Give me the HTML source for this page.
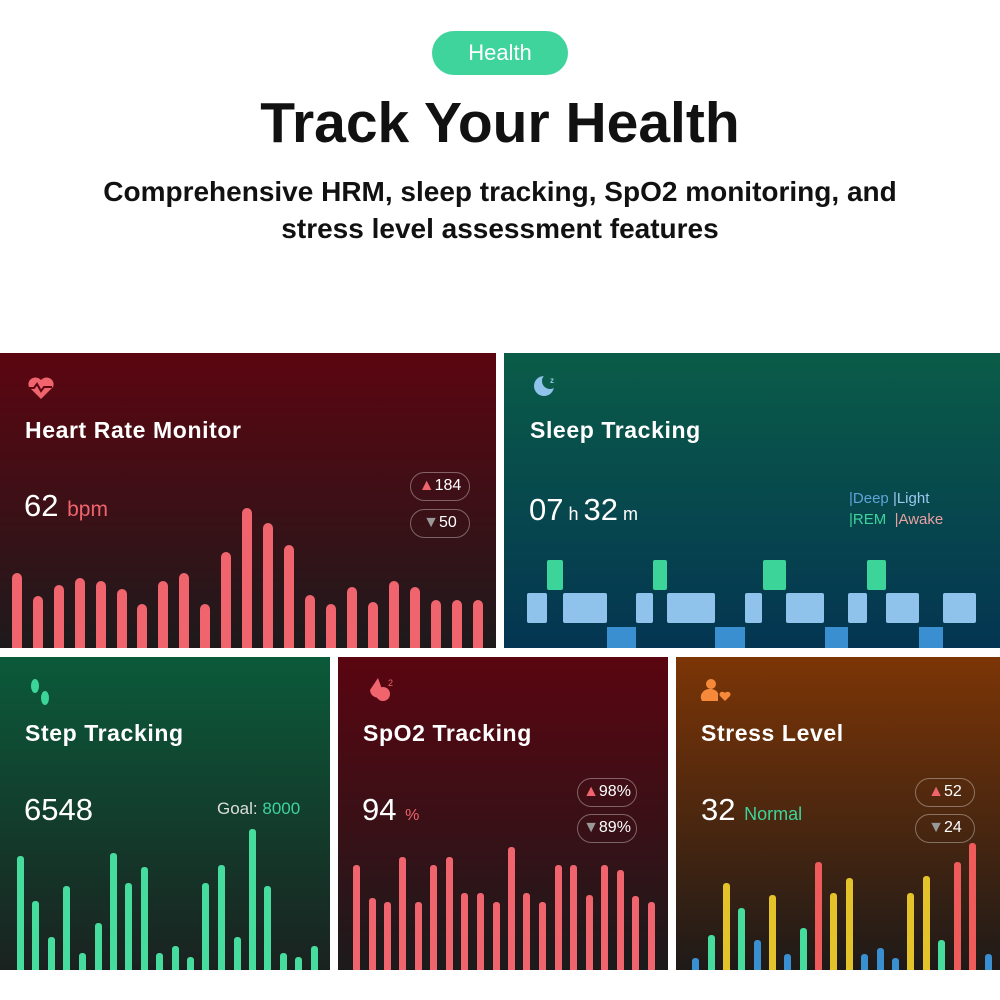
<!DOCTYPE html>
<html><head><meta charset="utf-8"><style>
*{margin:0;padding:0;box-sizing:border-box}
body{width:1000px;height:1000px;background:#fff;position:relative;overflow:hidden;font-family:"Liberation Sans","DejaVu Sans",sans-serif}
.a{position:absolute}
.pill{left:432px;top:31px;width:136px;height:44px;border-radius:22px;background:#3fd49c;color:#fff;font-size:22px;text-align:center;line-height:44px}
h1{position:absolute;left:0;width:1000px;top:90px;text-align:center;font-size:57px;font-weight:bold;color:#111}
.sub{left:0;width:1000px;top:173px;text-align:center;font-size:28px;line-height:37px;color:#111;font-weight:bold}
.p{position:absolute;overflow:hidden}
.t{position:absolute;color:#fff;font-weight:bold;font-size:23px;letter-spacing:0.6px}
.big{position:absolute;color:#fff;font-size:31px}
.badge{position:absolute;border:1.5px solid rgba(255,255,255,0.35);border-radius:16px;width:60px;height:29px;color:#fff;font-size:16px;line-height:26px;text-align:center}
</style></head><body>
<div class="a pill">Health</div>
<h1>Track Your Health</h1>
<div class="a sub">Comprehensive HRM, sleep tracking, SpO2 monitoring, and<br>stress level assessment features</div>

<div class="p" style="left:0;top:353px;width:496px;height:295px;background:linear-gradient(#5c0510,#1e1a1c)"></div>
<div class="p" style="left:504px;top:353px;width:496px;height:295px;background:linear-gradient(#0a5c48,#043552)"></div>
<div class="p" style="left:0;top:657px;width:330px;height:313px;background:linear-gradient(#0b5a3a,#1a2220)"></div>
<div class="p" style="left:338px;top:657px;width:330px;height:313px;background:linear-gradient(#5a0510,#1c1a1c)"></div>
<div class="p" style="left:676px;top:657px;width:324px;height:313px;background:linear-gradient(#7c3506,#1e1a18)"></div>

<div class="t" style="left:25px;top:417px">Heart Rate Monitor</div>
<div class="big" style="left:24px;top:488px">62 <span style="color:#f0646e;font-size:21px">bpm</span></div>
<div class="badge" style="left:410px;top:472px"><span style="color:#f0646e">▲</span>184</div>
<div class="badge" style="left:410px;top:509px"><span style="color:#999">▼</span>50</div>

<div class="t" style="left:530px;top:417px">Sleep Tracking</div>
<div class="big" style="left:529px;top:492px">07<span style="font-size:18px"> h </span>32<span style="font-size:18px"> m</span></div>
<div class="a" style="left:849px;top:488px;font-size:15px;line-height:21px;color:#5ea4d8">|Deep <span style="color:#9cc8ef">|Light</span><br><span style="color:#3dd49a">|REM</span> <span style="color:#e8a0a0">&nbsp;|Awake</span></div>

<div class="t" style="left:25px;top:720px">Step Tracking</div>
<div class="big" style="left:24px;top:792px">6548</div>
<div class="a" style="left:217px;top:799px;font-size:17px;color:#ddd">Goal: <span style="color:#3dd49a">8000</span></div>

<div class="t" style="left:363px;top:720px">SpO2 Tracking</div>
<div class="big" style="left:362px;top:792px">94 <span style="color:#f0646e;font-size:16px">%</span></div>
<div class="badge" style="left:577px;top:778px"><span style="color:#f0646e">▲</span>98%</div>
<div class="badge" style="left:577px;top:814px"><span style="color:#999">▼</span>89%</div>

<div class="t" style="left:701px;top:720px">Stress Level</div>
<div class="big" style="left:701px;top:792px">32 <span style="color:#3dd49a;font-size:18px">Normal</span></div>
<div class="badge" style="left:915px;top:778px;width:60px"><span style="color:#f0646e">▲</span>52</div>
<div class="badge" style="left:915px;top:814px;width:60px"><span style="color:#999">▼</span>24</div>

<svg class="a" style="left:0;top:0" width="1000" height="1000" viewBox="0 0 1000 1000">
<defs><clipPath id="ct"><rect x="0" y="350" width="1000" height="298"/></clipPath>
<clipPath id="cb"><rect x="0" y="657" width="1000" height="313"/></clipPath></defs>
<path d="M41 380 c-6-6-15 0-12 7 l12 12 12-12 c3-7-6-13-12-7z" fill="#f0646e"/>
<path d="M29 388 h5 l3-4 4 7 3-4 h8" stroke="#5c0510" stroke-width="2" fill="none"/>
<circle cx="544" cy="386" r="10" fill="#8fc3ec"/><circle cx="550" cy="381" r="8" fill="#0a5c48"/>
<text x="550" y="383" font-size="8" fill="#8fc3ec" font-weight="bold">z</text>
<ellipse cx="35" cy="686" rx="4" ry="7" fill="#3dd49a"/><ellipse cx="45" cy="698" rx="4" ry="7" fill="#3dd49a"/>
<path d="M378 678 l-8 12 a8 8 0 0 0 14 5z" fill="#f0646e"/><circle cx="383" cy="694" r="7" fill="#f0646e"/>
<text x="388" y="686" font-size="9" fill="#f0646e">2</text>
<circle cx="711" cy="684" r="5" fill="#f7893a"/><path d="M702 701 a9 8 0 0 1 16 -8 v8z" fill="#f7893a"/>
<path d="M725 693 c-3-3-7 0-5 3 l5 5 5-5 c2-3-2-6-5-3z" fill="#f7893a"/>
<g fill="#f0646e" clip-path="url(#ct)">
<rect x="12" y="573" width="10" height="80" rx="5"/><rect x="33" y="596" width="10" height="60" rx="5"/><rect x="54" y="585" width="10" height="70" rx="5"/><rect x="75" y="578" width="10" height="80" rx="5"/><rect x="96" y="581" width="10" height="80" rx="5"/><rect x="117" y="589" width="10" height="70" rx="5"/><rect x="137" y="604" width="10" height="60" rx="5"/><rect x="158" y="581" width="10" height="80" rx="5"/><rect x="179" y="573" width="10" height="80" rx="5"/><rect x="200" y="604" width="10" height="60" rx="5"/><rect x="221" y="552" width="10" height="100" rx="5"/><rect x="242" y="508" width="10" height="150" rx="5"/><rect x="263" y="523" width="10" height="130" rx="5"/><rect x="284" y="545" width="10" height="110" rx="5"/><rect x="305" y="595" width="10" height="60" rx="5"/><rect x="326" y="604" width="10" height="60" rx="5"/><rect x="347" y="587" width="10" height="70" rx="5"/><rect x="368" y="602" width="10" height="60" rx="5"/><rect x="389" y="581" width="10" height="80" rx="5"/><rect x="410" y="587" width="10" height="70" rx="5"/><rect x="431" y="600" width="10" height="60" rx="5"/><rect x="452" y="600" width="10" height="60" rx="5"/><rect x="473" y="600" width="10" height="60" rx="5"/>
</g>
<g fill="#8fc3ec">
<rect x="527" y="593" width="20" height="30" rx="2"/><rect x="563" y="593" width="44" height="30" rx="2"/><rect x="636" y="593" width="17" height="30" rx="2"/><rect x="667" y="593" width="48" height="30" rx="2"/><rect x="745" y="593" width="17" height="30" rx="2"/><rect x="786" y="593" width="38" height="30" rx="2"/><rect x="848" y="593" width="19" height="30" rx="2"/><rect x="886" y="593" width="33" height="30" rx="2"/><rect x="943" y="593" width="33" height="30" rx="2"/>
</g>
<g fill="#3dd49a">
<rect x="547" y="560" width="16" height="30" rx="2"/><rect x="653" y="560" width="14" height="30" rx="2"/><rect x="763" y="560" width="23" height="30" rx="2"/><rect x="867" y="560" width="19" height="30" rx="2"/>
</g>
<g fill="#3a8fd0">
<rect x="607" y="627" width="29" height="21"/><rect x="715" y="627" width="30" height="21"/><rect x="825" y="627" width="23" height="21"/><rect x="919" y="627" width="24" height="21"/>
</g>
<g clip-path="url(#cb)">
<g fill="#45dc9e">
<rect x="17" y="856" width="7" height="120" rx="3"/><rect x="32" y="901" width="7" height="80" rx="3"/><rect x="48" y="937" width="7" height="40" rx="3"/><rect x="63" y="886" width="7" height="90" rx="3"/><rect x="79" y="953" width="7" height="30" rx="3"/><rect x="95" y="923" width="7" height="50" rx="3"/><rect x="110" y="853" width="7" height="120" rx="3"/><rect x="125" y="883" width="7" height="90" rx="3"/><rect x="141" y="867" width="7" height="110" rx="3"/><rect x="156" y="953" width="7" height="30" rx="3"/><rect x="172" y="946" width="7" height="30" rx="3"/><rect x="187" y="957" width="7" height="20" rx="3"/><rect x="202" y="883" width="7" height="90" rx="3"/><rect x="218" y="865" width="7" height="110" rx="3"/><rect x="234" y="937" width="7" height="40" rx="3"/><rect x="249" y="829" width="7" height="150" rx="3"/><rect x="264" y="886" width="7" height="90" rx="3"/><rect x="280" y="953" width="7" height="30" rx="3"/><rect x="295" y="957" width="7" height="20" rx="3"/><rect x="311" y="946" width="7" height="30" rx="3"/>
</g>
<g fill="#f0646e">
<rect x="353" y="865" width="7" height="110" rx="3"/><rect x="369" y="898" width="7" height="80" rx="3"/><rect x="384" y="902" width="7" height="80" rx="3"/><rect x="399" y="857" width="7" height="120" rx="3"/><rect x="415" y="902" width="7" height="80" rx="3"/><rect x="430" y="865" width="7" height="110" rx="3"/><rect x="446" y="857" width="7" height="120" rx="3"/><rect x="461" y="893" width="7" height="80" rx="3"/><rect x="477" y="893" width="7" height="80" rx="3"/><rect x="493" y="902" width="7" height="80" rx="3"/><rect x="508" y="847" width="7" height="130" rx="3"/><rect x="523" y="893" width="7" height="80" rx="3"/><rect x="539" y="902" width="7" height="80" rx="3"/><rect x="555" y="865" width="7" height="110" rx="3"/><rect x="570" y="865" width="7" height="110" rx="3"/><rect x="586" y="895" width="7" height="80" rx="3"/><rect x="601" y="865" width="7" height="110" rx="3"/><rect x="617" y="870" width="7" height="110" rx="3"/><rect x="632" y="896" width="7" height="80" rx="3"/><rect x="648" y="902" width="7" height="80" rx="3"/>
</g>
<rect x="692" y="958" width="7" height="30" rx="3" fill="#3a8fd0"/><rect x="708" y="935" width="7" height="50" rx="3" fill="#45dc9e"/><rect x="723" y="883" width="7" height="100" rx="3" fill="#e3c22a"/><rect x="738" y="908" width="7" height="70" rx="3" fill="#45dc9e"/><rect x="754" y="940" width="7" height="40" rx="3" fill="#3a8fd0"/><rect x="769" y="895" width="7" height="80" rx="3" fill="#e3c22a"/><rect x="784" y="954" width="7" height="30" rx="3" fill="#3a8fd0"/><rect x="800" y="928" width="7" height="50" rx="3" fill="#45dc9e"/><rect x="815" y="862" width="7" height="110" rx="3" fill="#ef5a5a"/><rect x="830" y="893" width="7" height="80" rx="3" fill="#e3c22a"/><rect x="846" y="878" width="7" height="100" rx="3" fill="#e3c22a"/><rect x="861" y="954" width="7" height="30" rx="3" fill="#3a8fd0"/><rect x="877" y="948" width="7" height="30" rx="3" fill="#3a8fd0"/><rect x="892" y="958" width="7" height="30" rx="3" fill="#3a8fd0"/><rect x="907" y="893" width="7" height="80" rx="3" fill="#e3c22a"/><rect x="923" y="876" width="7" height="100" rx="3" fill="#e3c22a"/><rect x="938" y="940" width="7" height="40" rx="3" fill="#45dc9e"/><rect x="954" y="862" width="7" height="110" rx="3" fill="#ef5a5a"/><rect x="969" y="843" width="7" height="130" rx="3" fill="#ef5a5a"/><rect x="985" y="954" width="7" height="30" rx="3" fill="#3a8fd0"/>
</g>
</svg>
</body></html>
